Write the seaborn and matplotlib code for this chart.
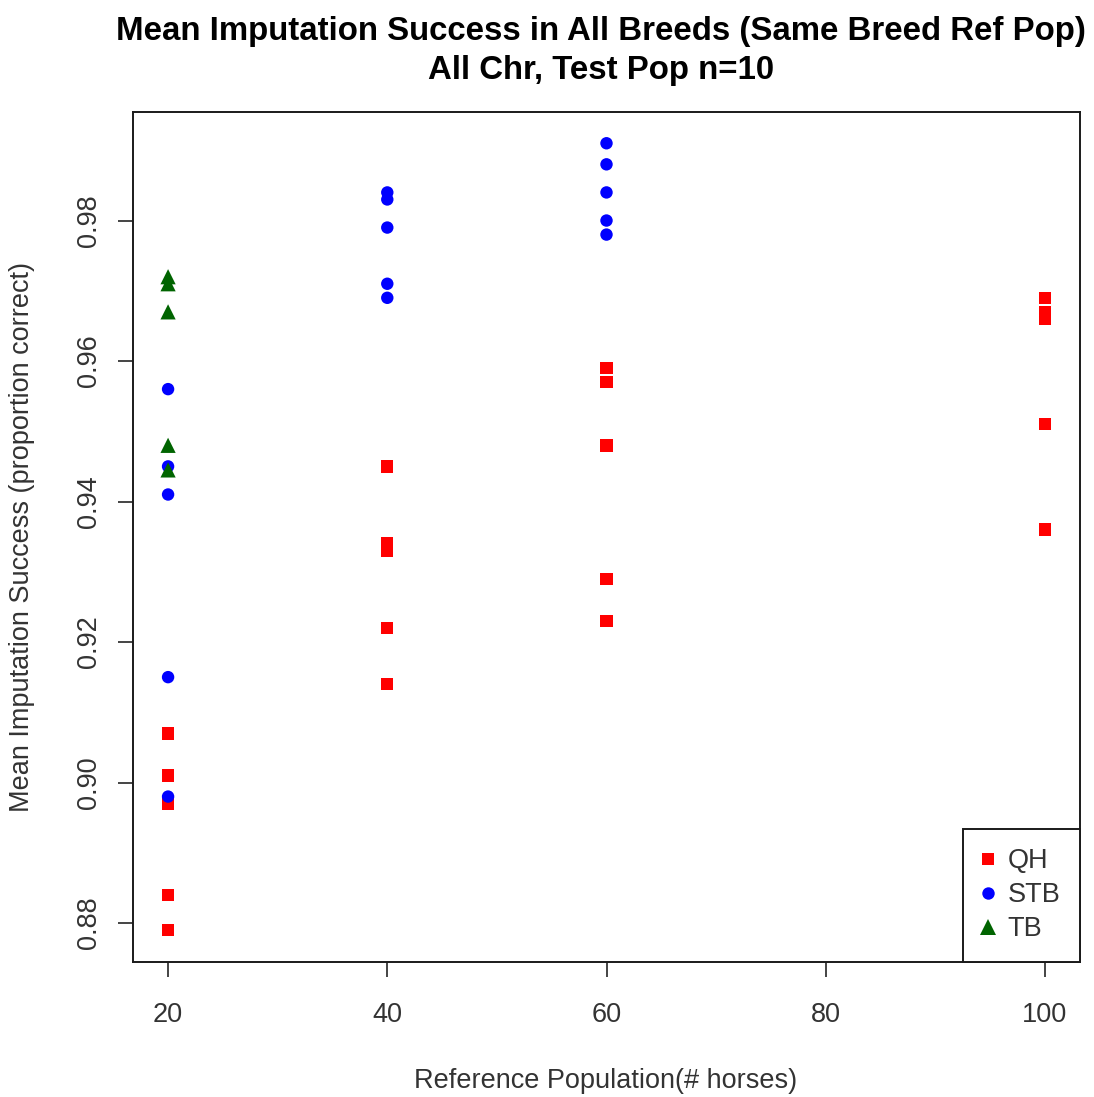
import matplotlib
matplotlib.use("Agg")
import matplotlib.pyplot as plt
import seaborn as sns
import pandas as pd

# ---- data ----
breeds = ["QH", "STB", "TB"]
qh_x = [20, 20, 20, 20, 20, 40, 40, 40, 40, 40, 60, 60, 60, 60, 60, 100, 100, 100, 100, 100]
qh_y = [0.907, 0.901, 0.897, 0.884, 0.879,
        0.945, 0.934, 0.933, 0.922, 0.914,
        0.959, 0.957, 0.948, 0.929, 0.923,
        0.969, 0.967, 0.966, 0.951, 0.936]
stb_x = [20, 20, 20, 20, 20, 40, 40, 40, 40, 40, 60, 60, 60, 60, 60]
stb_y = [0.956, 0.945, 0.941, 0.915, 0.898,
         0.984, 0.983, 0.979, 0.971, 0.969,
         0.991, 0.988, 0.984, 0.980, 0.978]
tb_x = [20, 20, 20, 20, 20]
tb_y = [0.972, 0.971, 0.967, 0.948, 0.9445]
x_ticks = [20, 40, 60, 80, 100]
y_ticks = [0.88, 0.90, 0.92, 0.94, 0.96, 0.98]
y_tick_labels = ["0.88", "0.90", "0.92", "0.94", "0.96", "0.98"]

df = pd.concat([
    pd.DataFrame({"x": qh_x, "y": qh_y, "Breed": "QH"}),
    pd.DataFrame({"x": stb_x, "y": stb_y, "Breed": "STB"}),
    pd.DataFrame({"x": tb_x, "y": tb_y, "Breed": "TB"}),
], ignore_index=True)

sns.set_theme(style="white")
plt.rcParams["font.family"] = ["Liberation Sans", "DejaVu Sans"]

TXT = "#333333"
FS = 19.5

fig = plt.figure(figsize=(10.94, 10.97), dpi=100)
ax = fig.add_axes([133/1094, 1 - 962/1097, (1080-133)/1094, (962-112)/1097])

palette = {"QH": "#FF0000", "STB": "#0000FF", "TB": "#006400"}
markers = {"QH": "s", "STB": "o", "TB": "^"}
sizes = {"QH": 80, "STB": 80, "TB": 120}
sns.scatterplot(data=df, x="x", y="y", hue="Breed", style="Breed", size="Breed",
                palette=palette, markers=markers, sizes=sizes, hue_order=breeds,
                style_order=breeds, size_order=breeds, linewidth=0, ax=ax, legend=True)

ax.set_xlim(16.8, 103.2)
ax.set_ylim(0.87445, 0.99545)
ax.set_xticks(x_ticks)
ax.set_xticklabels([str(v) for v in x_ticks])
ax.set_yticks(y_ticks)
ax.set_yticklabels(y_tick_labels, rotation=90, va="center")

for sp in ax.spines.values():
    sp.set_color("#1a1a1a")
    sp.set_linewidth(1.4)

ax.tick_params(axis="both", which="both", direction="out", length=11, width=1.4,
               color="#444444", labelsize=FS, labelcolor=TXT,
               bottom=True, left=True)
ax.tick_params(axis="x", pad=18)
ax.tick_params(axis="y", pad=11)

ax.set_xlabel("Reference Population(# horses)", fontsize=FS, color=TXT, va="center")
ax.set_ylabel("Mean Imputation Success (proportion correct)", fontsize=FS, color=TXT, va="center")
ax.xaxis.set_label_coords((606-133)/947, -(1081-962)/850)
ax.yaxis.set_label_coords(-(133-22)/947, (962-537)/850)

ax.set_title("Mean Imputation Success in All Breeds (Same Breed Ref Pop)\nAll Chr, Test Pop n=10",
             fontsize=23.8, fontweight="bold", color="#000000", pad=24, linespacing=1.3,
             x=(601-133)/947)

handles, labels = ax.get_legend_handles_labels()
leg = ax.legend(handles, labels, loc="lower right", borderaxespad=0, fancybox=False,
                frameon=True, edgecolor="#1a1a1a", framealpha=1, fontsize=FS,
                handletextpad=0.5, borderpad=0.72, labelspacing=0.3,
                handlelength=0.45, markerscale=1.0)
leg.get_frame().set_linewidth(1.4)
for t in leg.get_texts():
    t.set_color(TXT)

fig.savefig("out.png", dpi=100)
